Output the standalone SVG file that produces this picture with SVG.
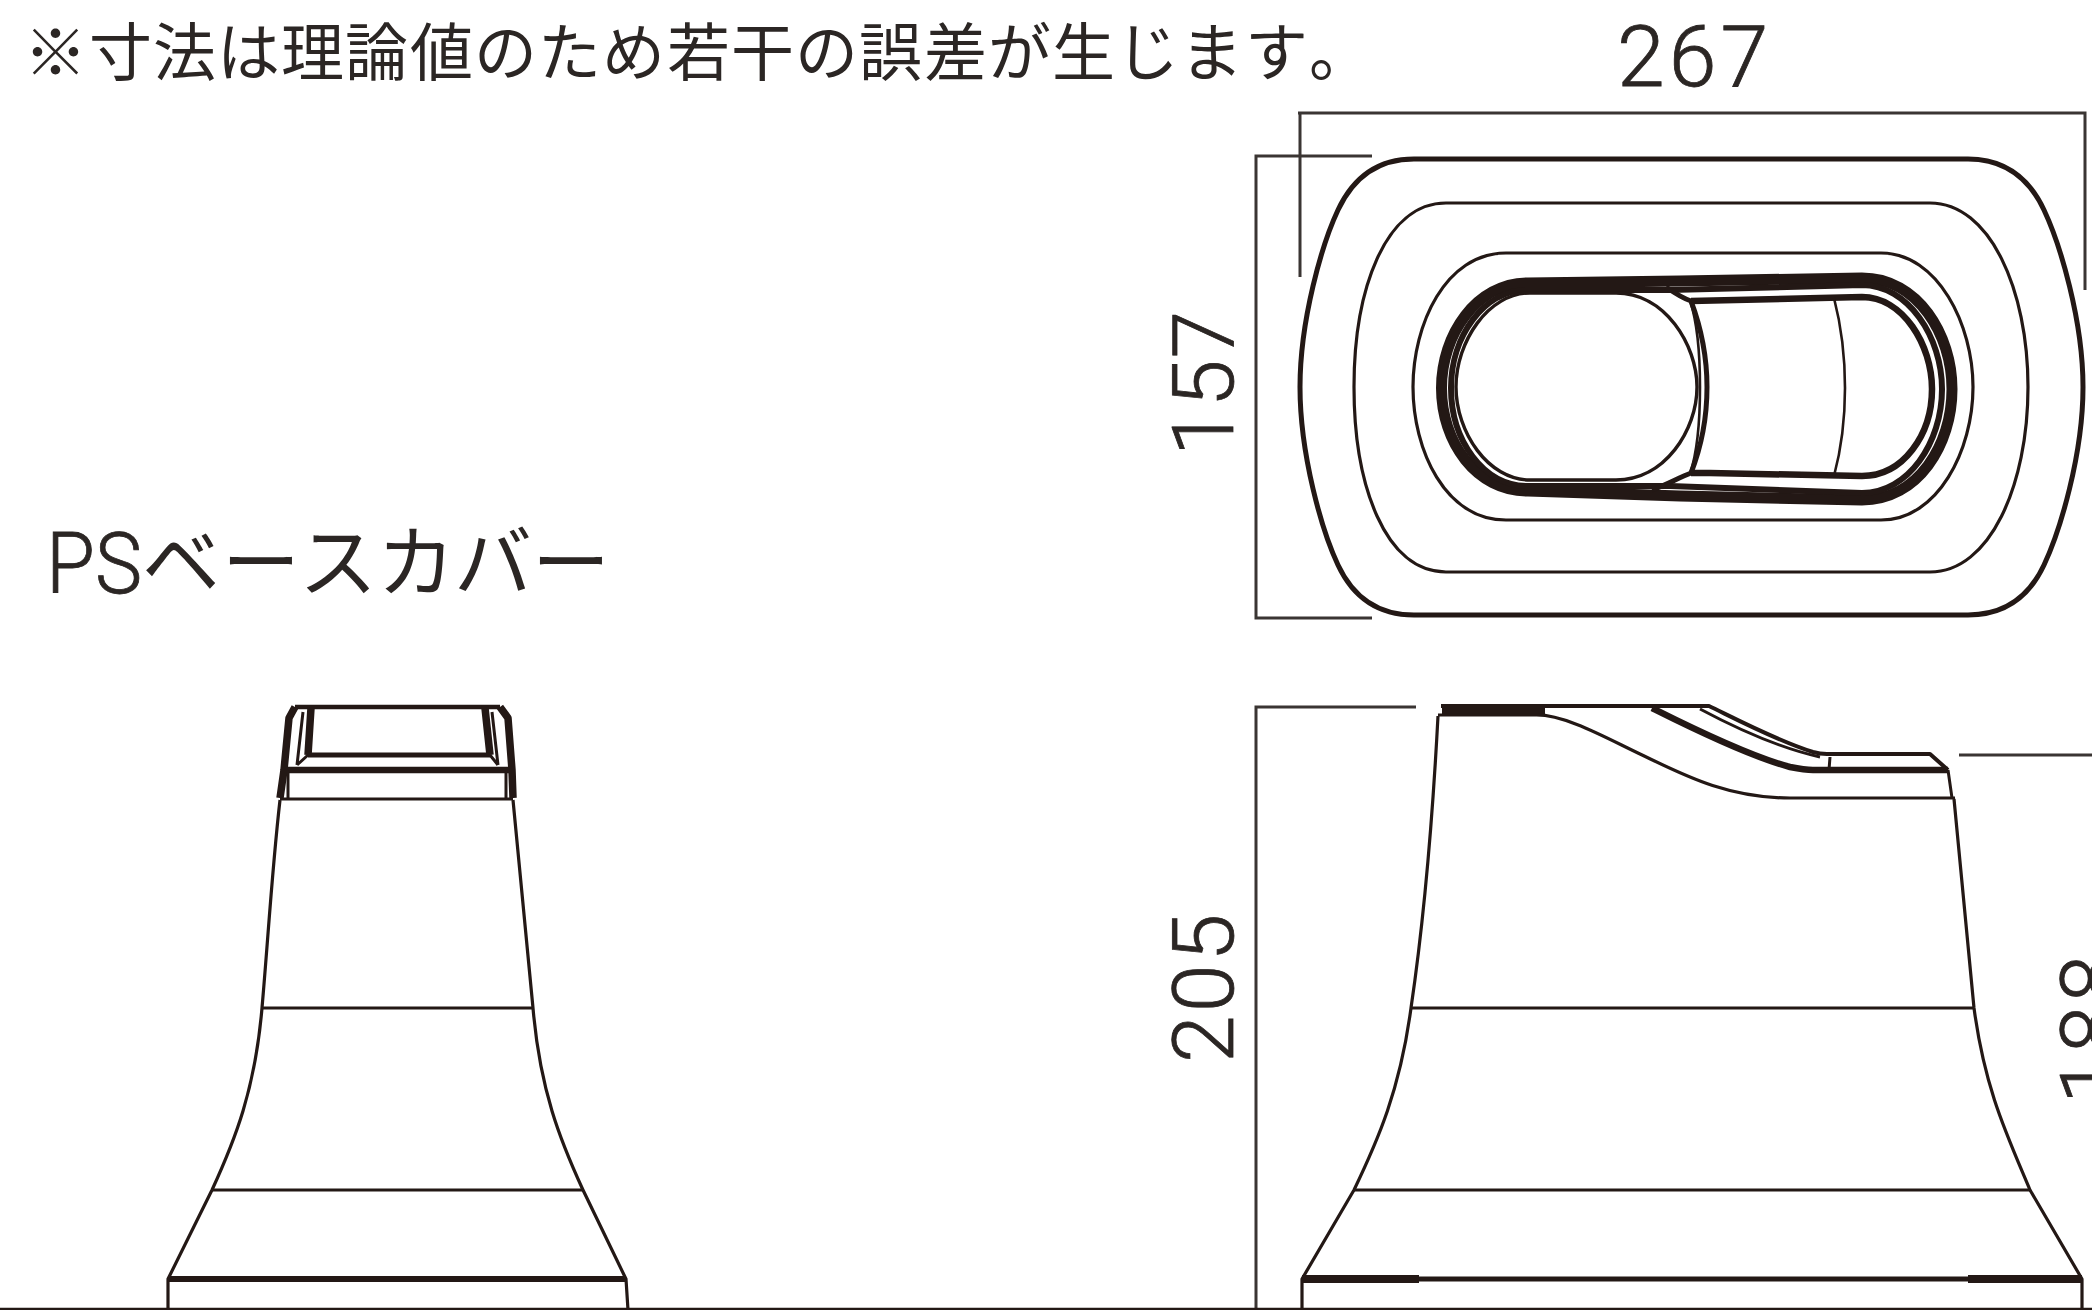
<svg xmlns="http://www.w3.org/2000/svg" width="2092" height="1310" viewBox="0 0 2092 1310">
<style>
.l{fill:none;stroke:#231815;stroke-linejoin:round;stroke-linecap:butt}
.d{fill:none;stroke:#3a3533;stroke-width:3}
.t{font-family:Roboto,"Liberation Sans",sans-serif;font-weight:300;fill:#2b2624;stroke:#2b2624;stroke-width:.8}
.j{font-family:"Noto Sans CJK JP","Liberation Sans",sans-serif;fill:#2b2624;font-weight:400}
</style>
<rect width="2092" height="1310" fill="#fff"/>
<g id="labels">
<text class="j" font-size="63" x="24 89 153 217 281 345 410 474 538 602 667 731 795 859 924 988 1052 1116 1180 1245 1309" y="75">※寸法は理論値のため若干の誤差が生じます。</text>
<text class="t" font-size="86" x="46" y="593" textLength="96" lengthAdjust="spacingAndGlyphs">PS</text>
<text class="j" font-size="78" x="142 222 299 377 454 532" y="591">ベースカバー</text>
<text class="t" font-size="86" x="1617" y="86" letter-spacing="4">267</text>
<text class="t" font-size="86" transform="translate(1233 456) rotate(-90)" letter-spacing="1">157</text>
<text class="t" font-size="86" transform="translate(1233 1063) rotate(-90)" letter-spacing="3">205</text>
<text class="t" font-size="86" transform="translate(2121 1104) rotate(-90)" letter-spacing="3">188</text>
</g>
<g id="dimensions">
<path class="d" d="M1300 277V113M1298 113H2085V290"/>
<path class="d" d="M1372 156H1256V618H1372"/>
<path class="d" d="M1416 707H1256V1310"/>
<path class="d" d="M1959 755H2092"/>
</g>
<g id="top-view">
<path class="l" stroke-width="5" d="M1414 159H1968C2007 159 2030 180 2044 210C2060 244 2083 320 2083 387C2083 455 2060 531 2044 565C2030 595 2007 615 1968 615H1414C1375 615 1352 595 1338 565C1322 531 1300 455 1300 387C1300 320 1322 244 1338 210C1352 180 1375 159 1414 159Z"/>
<path class="l" stroke-width="3.2" d="M1446 203H1930C1990 203 2028 290 2028 387C2028 485 1990 572 1930 572H1446C1385 572 1354 485 1354 387C1354 290 1385 203 1446 203Z"/>
<path class="l" stroke-width="3.2" d="M1506 253H1881C1938 253 1973 325 1973 387C1973 450 1938 520 1881 520H1506C1445 520 1413 450 1413 387C1413 325 1445 253 1506 253Z"/>
<path class="l" stroke-width="11" d="M1528 283L1680 281L1862 278C1918 278 1952 335 1952 389C1952 445 1918 500 1862 500L1680 496L1528 491C1476 491 1441.500 442 1441.500 388C1441.500 335 1476 283 1528 283Z"/>
<path class="l" stroke-width="6" d="M1528 290H1670L1862 285C1908 285 1942 337 1942 389C1942 443 1908 493 1862 493L1670 486H1528C1483 486 1451 440 1451 388C1451 337 1483 290 1528 290Z"/>
<path class="l" stroke-width="3.4" d="M1530 293H1616C1665 293 1697 345 1697 387C1697 430 1665 480 1616 480H1530C1488 480 1456 432 1456 387C1456 342 1488 293 1530 293Z"/>
<path class="l" stroke-width="5" d="M1666 287C1676 294 1682 298 1691 301C1700 325 1707 355 1707 387C1707 420 1700 450 1691 473C1680 477 1668 484 1652 490"/>
<path class="l" stroke-width="2.6" d="M1690 300C1698 325 1700 355 1700 387C1700 420 1698 450 1690 474"/>
<path class="l" stroke-width="6.5" d="M1691 301L1862 297C1903 297 1932 345 1932 389C1932 435 1903 476 1862 476L1710 473L1691 473"/>
<path class="l" stroke-width="2.6" d="M1834 298C1841 325 1845 355 1845 388C1845 420 1841 450 1834 476"/>
</g>
<g id="side-view">
<path class="l" stroke-width="3.2" d="M1438 716C1432 830 1424 920 1411 1008C1400 1090 1378 1140 1354 1190L1302 1279V1310"/>
<path class="l" stroke-width="3.2" d="M1954 799L1974 1008C1985 1090 2007 1135 2030 1190L2082 1279V1310"/>
<path class="l" stroke-width="4" d="M1441 706H1709C1730 716 1775 740 1813 752Q1820 754 1827 754H1930L1948 770"/>
<path class="l" stroke-width="3" d="M1700 709C1730 725 1775 747 1820 757"/>
<path class="l" stroke-width="6.500" d="M1652 708C1680 722 1745 755 1790 767Q1805 770 1813 770H1948"/>
<path class="l" stroke-width="8" d="M1442 710H1545"/>
<path class="l" stroke-width="3.2" d="M1438 715H1535C1565 714 1610 740 1640 754C1680 773 1725 798 1790 798H1955"/>
<path class="l" stroke-width="3" d="M1948 770L1952 798M1830 757L1829 770"/>
<path class="l" stroke-width="3.2" d="M1411 1008H1974M1354 1190H2030"/>
<path class="l" stroke-width="5" d="M1302 1279H2082"/>
<path class="l" stroke-width="8" d="M1302 1279H1419M1968 1279H2082"/>
</g>
<g id="front-view">
<path class="l" stroke-width="3.2" d="M280 800C272 870 268 940 262 1008C255 1090 235 1140 212 1190L168 1279V1310"/>
<path class="l" stroke-width="3.2" d="M513 800C520 870 527 940 533 1008C540 1090 560 1140 583 1190L626 1279L628 1310"/>
<path class="l" stroke-width="4.500" d="M295 707H500"/>
<path class="l" stroke-width="7.500" d="M295 707L289 718L284 770L280 798M500 707L508 718L512 770L513 798"/>
<path class="l" stroke-width="7.500" d="M311 708L308 755M485 708L490 755"/>
<path class="l" stroke-width="5" d="M308 755H490"/>
<path class="l" stroke-width="3" d="M303 712L297 765M492 712L498 765M308 755L297 765M490 755L498 765"/>
<path class="l" stroke-width="6.500" d="M284 770H512"/>
<path class="l" stroke-width="3" d="M288 772V798M506 772V798"/>
<path class="l" stroke-width="3.2" d="M280 799H513M262 1008H533M212 1190H583"/>
<path class="l" stroke-width="6" d="M168 1279H626"/>
</g>
<path class="l" stroke-width="2.5" d="M0 1309H2092"/>
</svg>
